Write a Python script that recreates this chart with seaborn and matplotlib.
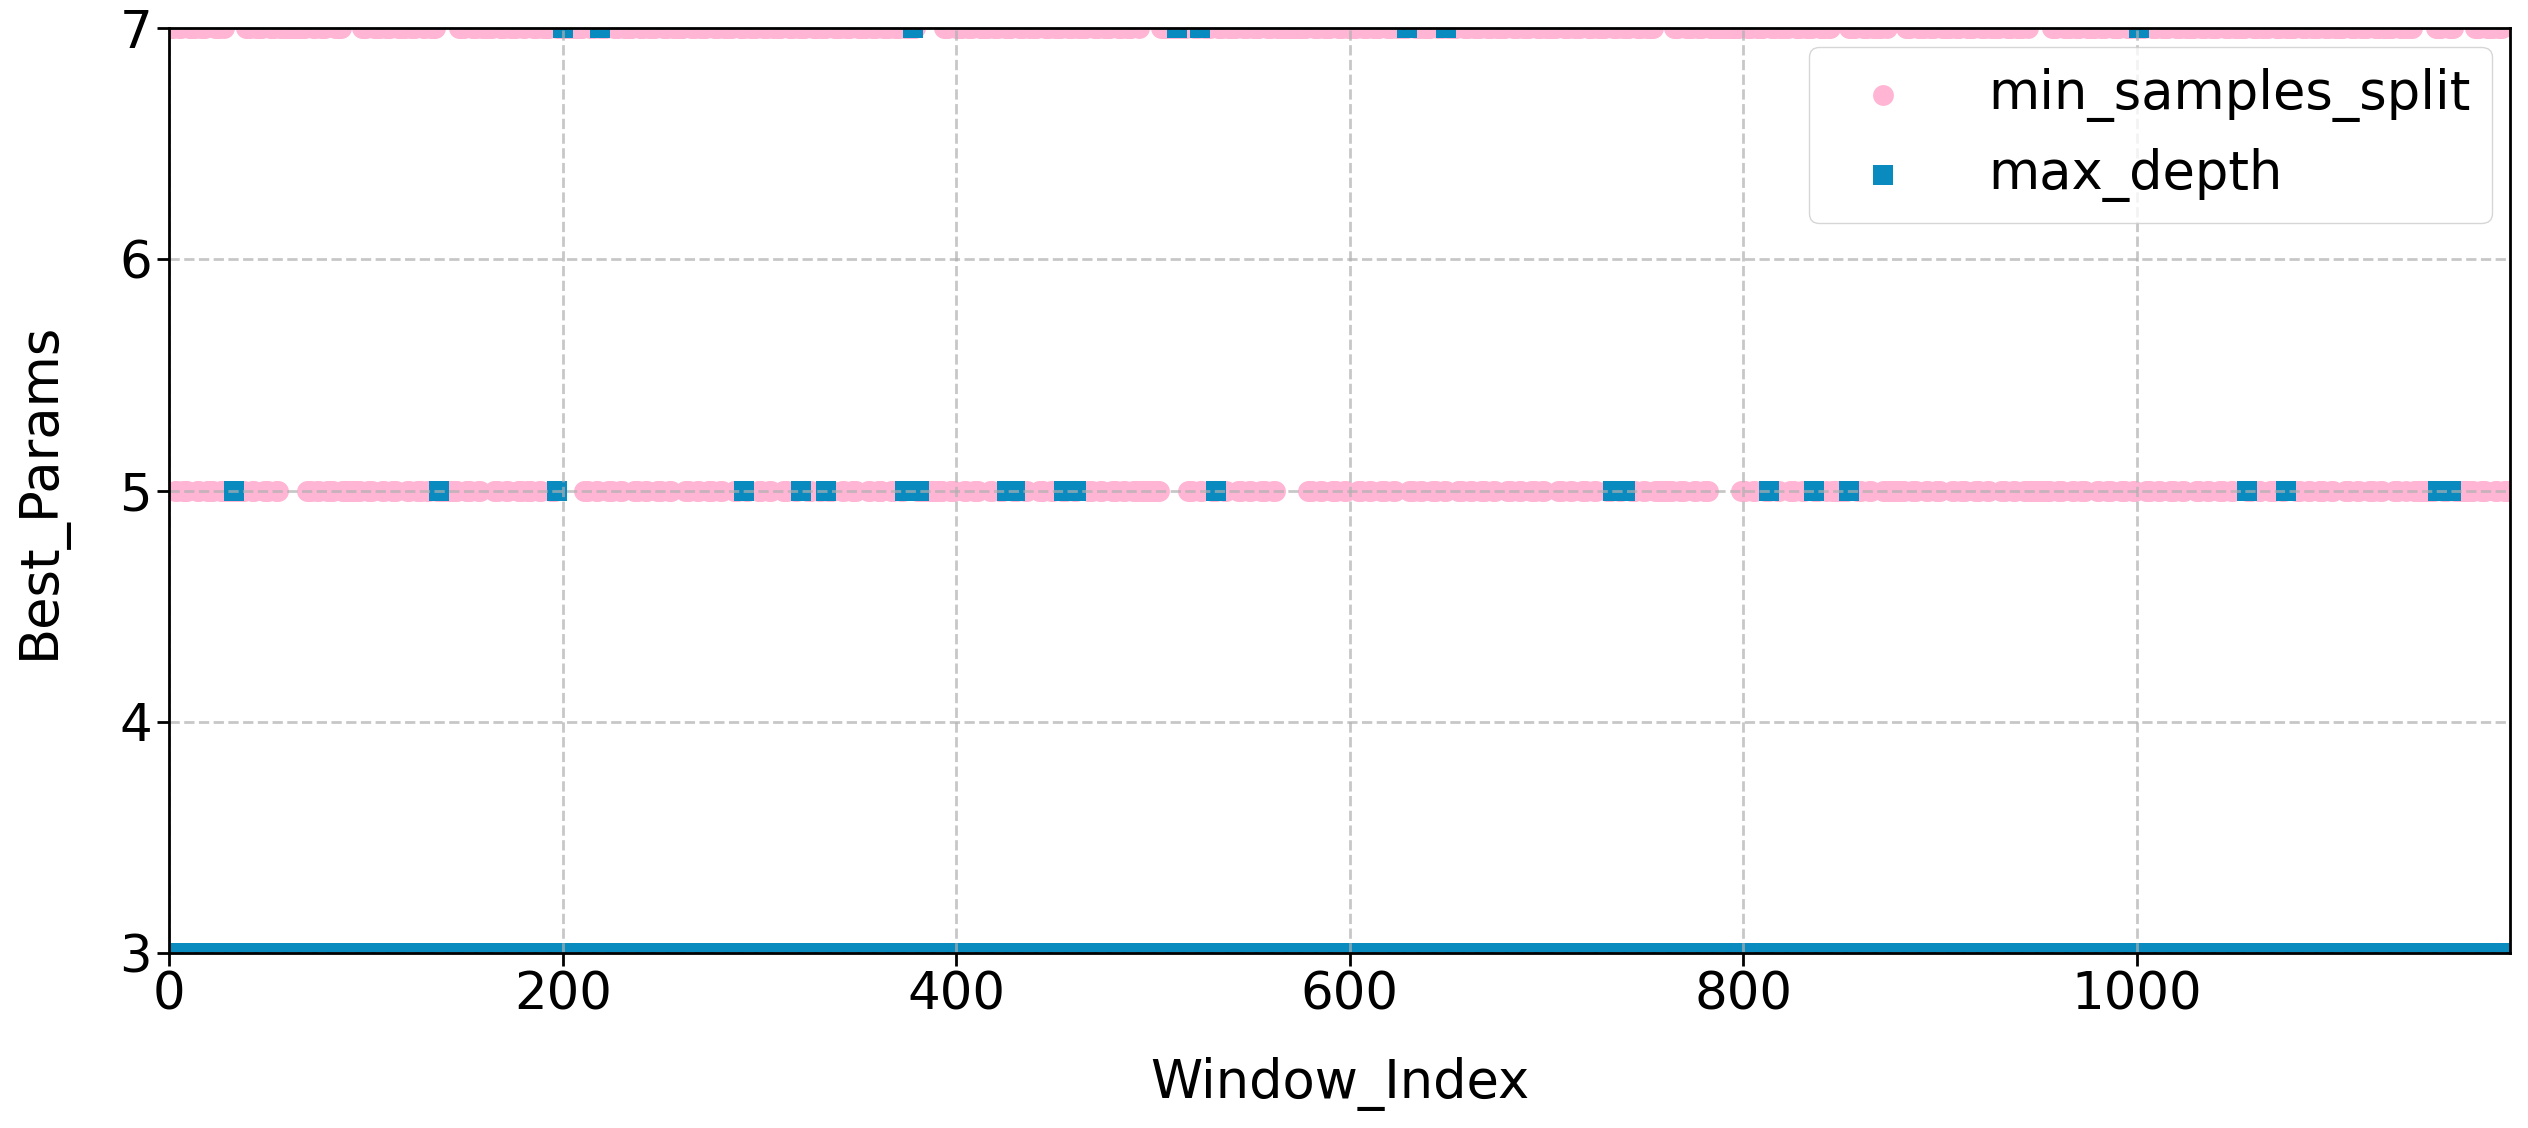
import numpy as np
import pandas as pd
import matplotlib
matplotlib.use('Agg')
import matplotlib.pyplot as plt
import seaborn as sns

# ── data ────────────────────────────────────────────────────
n_windows = 1191
window_index = np.arange(n_windows)

# min_samples_split as (value, run length) pairs, in window order
mss_runs = [
    (7, 3), (5, 2), (7, 2), (5, 3), (7, 4), (5, 2), (7, 3), (5, 4), (7, 3), (5, 2),
    (7, 1), (5, 10), (7, 3), (5, 2), (7, 4), (5, 3), (7, 3), (5, 2), (7, 14),
    (5, 3), (7, 2), (5, 2), (7, 3), (5, 4), (7, 4), (5, 10),
    (7, 3), (5, 3), (7, 4), (5, 2), (7, 3), (5, 3), (7, 5), (5, 2), (7, 3), (5, 3), (7, 2),
    (5, 2), (7, 3), (5, 11),
    (7, 4), (5, 3), (7, 3), (5, 2), (7, 6), (5, 3), (7, 3), (5, 2), (7, 4), (5, 3), (7, 2),
    (5, 3), (7, 3), (5, 2), (7, 4), (5, 3), (7, 14),
    (5, 3), (7, 3), (5, 2), (7, 4), (5, 3), (7, 3), (5, 2), (7, 5), (5, 3), (7, 3),
    (5, 2), (7, 4), (5, 3), (7, 3), (5, 2), (7, 6), (5, 3), (7, 3), (5, 2), (7, 4),
    (5, 3), (7, 3), (5, 2), (7, 5), (5, 3), (7, 3), (5, 2), (7, 4), (5, 3), (7, 3),
    (5, 2), (7, 5), (5, 3), (7, 3), (5, 2), (7, 4), (5, 3), (7, 3), (5, 2), (7, 3),
    (5, 3), (7, 4), (5, 2), (7, 3), (5, 3), (7, 5), (5, 2), (7, 3), (5, 3), (7, 4),
    (5, 2), (7, 3), (5, 2), (7, 6), (5, 14),
    (7, 3), (5, 3), (7, 4), (5, 2), (7, 3), (5, 3), (7, 5), (5, 2), (7, 3), (5, 3),
    (7, 4), (5, 3), (7, 3), (5, 2), (7, 5), (5, 3), (7, 3), (5, 2), (7, 4), (5, 3),
    (7, 3), (5, 2), (7, 5), (5, 3), (7, 3), (5, 2), (7, 4), (5, 3), (7, 3), (5, 2),
    (7, 3), (5, 3), (7, 1), (5, 10), (7, 14),
    (5, 3), (7, 3), (5, 2), (7, 4), (5, 3), (7, 3), (5, 2), (7, 5), (5, 3), (7, 3),
    (5, 2), (7, 4), (5, 3), (7, 3), (5, 2), (7, 16),
    (5, 3), (7, 3), (5, 2), (7, 4), (5, 3), (7, 3), (5, 2), (7, 5), (5, 3), (7, 3),
    (5, 2), (7, 4), (5, 3), (7, 3), (5, 2), (7, 6), (5, 3), (7, 3), (5, 2), (7, 4),
    (5, 3), (7, 3), (5, 2), (7, 5), (5, 3), (7, 3), (5, 2), (7, 4), (5, 3), (7, 3),
    (5, 2), (7, 5), (5, 3), (7, 3), (5, 2), (7, 4), (5, 3), (7, 3), (5, 2), (7, 6),
    (5, 3), (7, 3), (5, 2), (7, 4), (5, 3), (7, 3), (5, 2), (7, 5), (5, 3), (7, 3),
    (5, 2), (7, 4), (5, 3), (7, 3), (5, 2), (7, 4), (5, 10),
    (7, 3), (5, 3), (7, 4), (5, 2), (7, 3), (5, 3), (7, 16),
    (5, 3), (7, 3), (5, 2), (7, 4), (5, 3), (7, 3), (5, 2), (7, 5), (5, 3), (7, 3),
    (5, 2), (7, 4), (5, 3), (7, 3), (5, 1), (7, 2), (5, 9), (7, 4), (5, 3), (7, 3),
    (5, 2), (7, 5), (5, 2), (7, 1), (5, 9),
    (7, 3), (5, 3), (7, 4), (5, 2), (7, 3), (5, 3), (7, 5), (5, 2), (7, 3), (5, 3),
    (7, 4), (5, 3), (7, 3), (5, 2), (7, 5), (5, 3), (7, 3), (5, 2), (7, 4), (5, 2),
    (7, 1), (5, 11),
    (7, 3), (5, 3), (7, 4), (5, 2), (7, 3), (5, 3), (7, 5), (5, 2), (7, 3), (5, 3),
    (7, 4), (5, 3), (7, 3), (5, 2), (7, 5), (5, 3), (7, 3), (5, 2), (7, 4), (5, 3),
    (7, 3), (5, 2), (7, 5), (5, 3), (7, 3), (5, 2), (7, 4), (5, 3), (7, 3), (5, 2),
    (7, 6), (5, 3), (7, 3), (5, 2), (7, 4), (5, 3), (7, 3), (5, 2), (7, 5), (5, 3),
    (7, 3), (5, 2), (7, 4), (5, 3), (7, 3), (5, 2), (7, 5), (5, 3), (7, 3), (5, 2),
    (7, 4), (5, 3), (7, 3), (5, 2), (7, 5), (5, 3), (7, 3), (5, 1), (7, 3), (5, 11),
    (7, 4), (5, 3), (7, 3), (5, 10), (7, 3), (5, 3), (7, 4), (5, 2), (7, 3), (5, 4),
]

# max_depth is 3 everywhere except these windows
md_default = 3
md_windows_at_5 = [33, 137, 197, 292, 321, 334, 374, 381, 426, 430, 455, 461,
                   532, 734, 740, 813, 836, 854, 1056, 1076, 1153, 1160]
md_windows_at_7 = [200, 219, 378, 512, 524, 629, 649, 1001]

# ── build series ────────────────────────────────────────────
mss_vals = np.repeat([v for v, _ in mss_runs], [k for _, k in mss_runs])[:n_windows]
md_vals = np.full(n_windows, md_default)
md_vals[md_windows_at_5] = 5
md_vals[md_windows_at_7] = 7

df = pd.DataFrame({'Window_Index': window_index,
                   'min_samples_split': mss_vals,
                   'max_depth': md_vals})

PINK = '#ffb5d3'
BLUE = '#0a8bbf'

plt.rcParams.update({
    'font.family': 'DejaVu Sans',
    'axes.axisbelow': 'line',
})

fig, ax = plt.subplots(figsize=(25.28, 11.28), dpi=100)
fig.subplots_adjust(left=0.067, right=0.993, top=0.975, bottom=0.155)

sns.scatterplot(data=df, x='Window_Index', y='min_samples_split', ax=ax,
                marker='o', color=PINK, s=225, linewidth=0,
                label='min_samples_split')
sns.scatterplot(data=df, x='Window_Index', y='max_depth', ax=ax,
                marker='s', color=BLUE, s=225, linewidth=0,
                label='max_depth')

ax.set_xlim(0, n_windows - 1)
ax.set_ylim(3, 7)
ax.set_yticks([3, 4, 5, 6, 7])
ax.set_xlabel('Window_Index', fontsize=38, labelpad=26)
ax.set_ylabel('Best_Params', fontsize=38, labelpad=38)
ax.tick_params(labelsize=37, length=9, width=2)
for sp in ax.spines.values():
    sp.set_linewidth(2)
ax.grid(True, linestyle='--', linewidth=2, alpha=0.7)
ax.legend(loc='upper right', fontsize=38, borderaxespad=0.35,
          handletextpad=1.0)

fig.savefig('out.png', dpi=100)
